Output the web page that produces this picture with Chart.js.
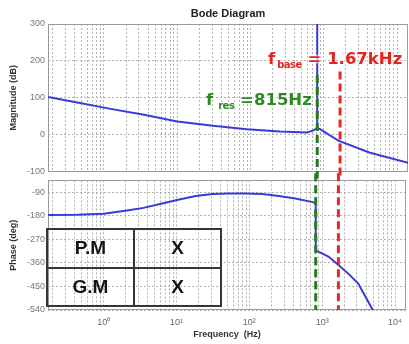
<!DOCTYPE html>
<html lang="en">
<head>
  <meta charset="UTF-8" />
  <title>Bode Diagram</title>
  <script src="https://cdn.jsdelivr.net/npm/chart.js"></script>
  <style>
    body {
      margin: 0;
      background: #fff;
    }

    #page {
      position: relative;
      width: 409px;
      height: 344px;
      overflow: hidden;
    }

    #magBox, #phaseBox {
      position: absolute;
      left: 0;
      width: 409px;
    }

    #magBox { top: 0; height: 180px; }
    #phaseBox { top: 172px; height: 172px; }

    .ann {
      position: absolute;
      font: bold 16.5px 'DejaVu Sans', sans-serif;
      line-height: 20px;
      white-space: nowrap;
      text-shadow: 0 0 2px #fff, 0 0 2px #fff, 0 0 3px #fff;
    }

    .ann .sb {
      font-size: 10px;
      line-height: 1;
      position: relative;
      top: 4px;
      letter-spacing: -0.5px;
    }

    #pmTable {
      position: absolute;
      left: 46px;
      top: 228px;
      width: 176px;
      height: 79px;
      border-collapse: collapse;
      table-layout: fixed;
    }

    #pmTable td {
      border: 2px solid #363636;
      padding: 0;
      text-align: center;
      font: bold 19px 'Liberation Sans', Arial, sans-serif;
      color: #141414;
    }
  </style>
</head>
<body>

<div id="page">
  <div id="magBox"><canvas id="magChart" width="409" height="180"></canvas></div>
  <div id="phaseBox"><canvas id="phaseChart" width="409" height="172"></canvas></div>

  <div class="ann" style="left:268px; top:49px; color:#e3241f;">f<span class="sb" style="margin-left:2px;">base</span> = 1.67kHz</div>
  <div class="ann" style="left:206px; top:90px; color:#2c8a26;">f<span class="sb" style="margin-left:5px;">res</span> =815Hz</div>

  <table id="pmTable">
    <colgroup><col style="width:87px"><col></colgroup>
    <tr><td>P.M</td><td>X</td></tr>
    <tr><td>G.M</td><td>X</td></tr>
  </table>
</div>

<script>
  // frequency axis (Hz, log)
  const X_MIN = 0.172;
  const X_MAX = 14125;
  const X_MAJOR = [1, 10, 100, 1000, 10000];
  const X_LABELS = ['10⁰', '10¹', '10²', '10³', '10⁴'];

  // magnitude curve
  const MAG_FREQ = [0.172, 0.432, 1.23, 3.52, 10, 30.8, 88.8, 253, 586, 713, 815, 815, 815, 889, 1580, 4276, 14260];
  const MAG_DB   = [102, 87, 70, 54, 36, 24, 15, 9, 6, 11, 18, 330, 18, 15, -16, -49, -76];
  const MAG_TICKS = [-100, 0, 100, 200, 300];

  // phase curve
  const PHASE_FREQ = [0.172, 0.432, 1.0, 2.08, 3.52, 5.94, 10.9, 18.4, 31.1, 52.5, 88.8, 150, 253, 427, 720, 815, 815, 889, 1217, 1580, 2280, 3126, 4950];
  const PHASE_DEG  = [-177, -176, -172, -160, -150, -135, -118, -105, -97, -95, -95, -97, -105, -114, -127, -131, -313, -317, -336, -362, -401, -439, -540];
  const PHASE_TICKS = [-540, -450, -360, -270, -180, -90];

  // marker lines
  const F_RES = 815;
  const F_BASE = 1670;
  const RES_DB = [162, -119];
  const BASE_DB = [171, -119];
  const MARK_DEG = [-18, -540];

  const FONT = "'Liberation Sans', Arial, sans-serif";
  const GRID = '#b2b2b2';
  const BLUE = '#3a3ad8';
  const RED = '#e32a24';
  const GREEN = '#267a22';

  // grid positions for the log axis: 1..9 in every decade
  const gridValues = [];
  [0.1, 1, 10, 100, 1000, 10000].forEach(d => {
    for (let m = 1; m <= 9; m++) {
      const v = d * m;
      if (v >= X_MIN && v <= X_MAX) gridValues.push(v);
    }
  });

  const frame = {
    id: 'frame',
    beforeDatasetsDraw(chart) {
      const {ctx, chartArea: a} = chart;
      ctx.save();
      ctx.strokeStyle = '#9c9c9c';
      ctx.lineWidth = 1;
      ctx.strokeRect(Math.round(a.left) + 0.5, Math.round(a.top) + 0.5,
                     Math.round(a.width) - 1, Math.round(a.height) - 1);
      ctx.restore();
    }
  };

  function xScale(showLabels) {
    return {
      type: 'logarithmic',
      min: X_MIN,
      max: X_MAX,
      afterBuildTicks: s => { s.ticks = gridValues.map(v => ({value: v})); },
      afterFit: s => { s.height = showLabels ? 34 : 0; },
      grid: { color: GRID, drawTicks: false },
      border: { display: false, dash: [2, 2] },
      ticks: {
        display: showLabels,
        autoSkip: false,
        maxRotation: 0,
        padding: 7,
        color: '#666',
        font: { size: 9, family: FONT },
        callback: v => {
          const i = X_MAJOR.indexOf(v);
          return i >= 0 ? X_LABELS[i] : '';
        }
      },
      title: {
        display: showLabels,
        text: 'Frequency  (Hz)',
        color: '#333',
        font: { size: 9, weight: 'bold', family: FONT },
        padding: { top: 0, bottom: 4 }
      }
    };
  }

  function yScale(min, max, ticks, label) {
    return {
      min: min,
      max: max,
      afterBuildTicks: s => { s.ticks = ticks.map(v => ({value: v})); },
      afterFit: s => { s.width = 48; },
      grid: { color: GRID, drawTicks: false },
      border: { display: false, dash: [2, 2] },
      ticks: {
        padding: 3,
        color: '#777',
        font: { size: 9, family: FONT },
        callback: v => String(v)
      },
      title: {
        display: true,
        text: label,
        color: '#333',
        font: { size: 9, weight: 'bold', family: FONT },
        padding: { top: 8, bottom: 0 }
      }
    };
  }

  function markLine(f, ys, color) {
    return {
      data: ys.map(y => ({x: f, y: y})),
      borderColor: color,
      borderWidth: 3,
      borderDash: [8, 4],
      pointRadius: 0,
      clip: false,
      order: 0
    };
  }

  function curve(xs, ys) {
    return {
      data: xs.map((x, i) => ({x: x, y: ys[i]})),
      borderColor: BLUE,
      borderWidth: 2,
      pointRadius: 0,
      tension: 0,
      order: 1
    };
  }

  new Chart(document.getElementById('magChart'), {
    type: 'line',
    data: {
      datasets: [
        markLine(F_RES, RES_DB, GREEN),
        markLine(F_BASE, BASE_DB, RED),
        curve(MAG_FREQ, MAG_DB)
      ]
    },
    options: {
      responsive: false,
      animation: false,
      layout: { padding: { top: 0, right: 1, bottom: 8, left: 0 } },
      plugins: {
        legend: { display: false },
        tooltip: { enabled: false },
        title: {
          display: true,
          text: 'Bode Diagram',
          fullSize: false,
          color: '#222',
          font: { size: 11, weight: 'bold', family: FONT, lineHeight: 1 },
          padding: { top: 8, bottom: 5 }
        }
      },
      scales: {
        x: xScale(false),
        y: yScale(-100, 300, MAG_TICKS, 'Magnitude (dB)')
      }
    },
    plugins: [frame]
  });

  new Chart(document.getElementById('phaseChart'), {
    type: 'line',
    data: {
      datasets: [
        markLine(F_RES, MARK_DEG, GREEN),
        markLine(F_BASE, MARK_DEG, RED),
        curve(PHASE_FREQ, PHASE_DEG)
      ]
    },
    options: {
      responsive: false,
      animation: false,
      layout: { padding: { top: 7, right: 1, bottom: 0, left: 0 } },
      plugins: {
        legend: { display: false },
        tooltip: { enabled: false }
      },
      scales: {
        x: xScale(true),
        y: yScale(-540, -45, PHASE_TICKS, 'Phase (deg)')
      }
    },
    plugins: [frame]
  });
</script>

</body>
</html>
